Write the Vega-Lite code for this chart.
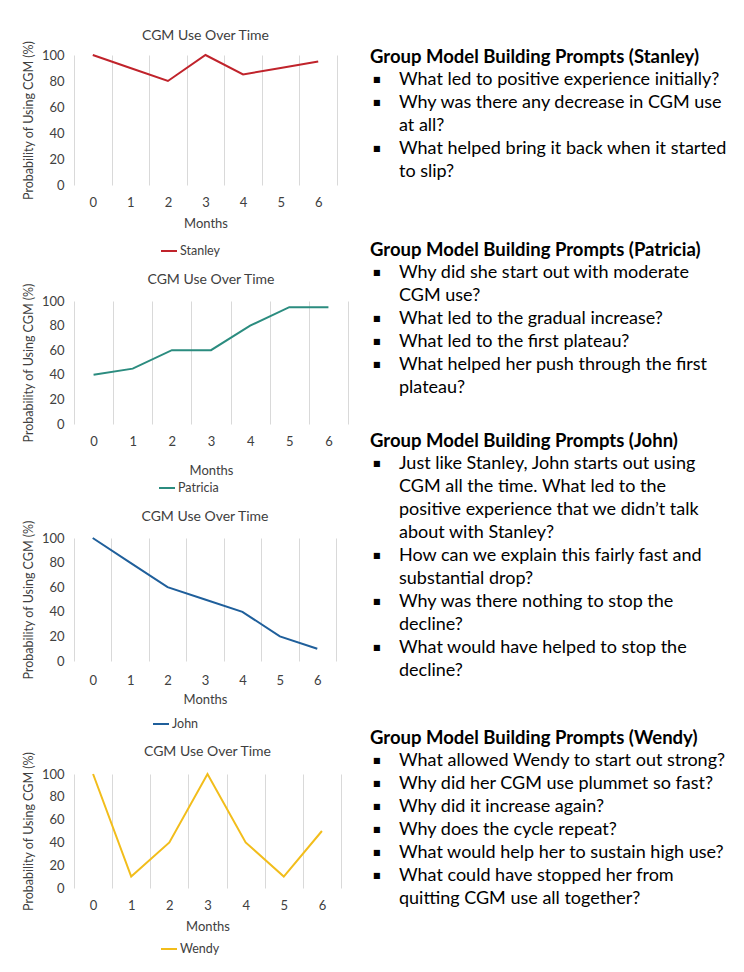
{
  "$schema": "https://vega.github.io/schema/vega-lite/v6.json",
  "padding": {"top": 29, "left": 22, "right": 0, "bottom": 0},
  "background": "white",
  "datasets": {
    "cgm": [
      {"person": "Stanley", "month": 0, "value": 100},
      {"person": "Stanley", "month": 1, "value": 90},
      {"person": "Stanley", "month": 2, "value": 80},
      {"person": "Stanley", "month": 3, "value": 100},
      {"person": "Stanley", "month": 4, "value": 85},
      {"person": "Stanley", "month": 5, "value": 90},
      {"person": "Stanley", "month": 6, "value": 95},
      {"person": "Patricia", "month": 0, "value": 40},
      {"person": "Patricia", "month": 1, "value": 45},
      {"person": "Patricia", "month": 2, "value": 60},
      {"person": "Patricia", "month": 3, "value": 60},
      {"person": "Patricia", "month": 4, "value": 80},
      {"person": "Patricia", "month": 5, "value": 95},
      {"person": "Patricia", "month": 6, "value": 95},
      {"person": "John", "month": 0, "value": 100},
      {"person": "John", "month": 1, "value": 80},
      {"person": "John", "month": 2, "value": 60},
      {"person": "John", "month": 3, "value": 50},
      {"person": "John", "month": 4, "value": 40},
      {"person": "John", "month": 5, "value": 20},
      {"person": "John", "month": 6, "value": 10},
      {"person": "Wendy", "month": 0, "value": 100},
      {"person": "Wendy", "month": 1, "value": 10},
      {"person": "Wendy", "month": 2, "value": 40},
      {"person": "Wendy", "month": 3, "value": 100},
      {"person": "Wendy", "month": 4, "value": 40},
      {"person": "Wendy", "month": 5, "value": 10},
      {"person": "Wendy", "month": 6, "value": 50}
    ],
    "prompts": [
      {"line": 0, "kind": "heading", "text": "Group Model Building Prompts (Stanley)"},
      {"line": 1, "kind": "bullet", "text": "What led to positive experience initially?"},
      {"line": 2, "kind": "bullet", "text": "Why was there any decrease in CGM use"},
      {"line": 3, "kind": "cont", "text": "at all?"},
      {"line": 4, "kind": "bullet", "text": "What helped bring it back when it started"},
      {"line": 5, "kind": "cont", "text": "to slip?"},
      {"line": 8.4, "kind": "heading", "text": "Group Model Building Prompts (Patricia)"},
      {"line": 9.4, "kind": "bullet", "text": "Why did she start out with moderate"},
      {"line": 10.4, "kind": "cont", "text": "CGM use?"},
      {"line": 11.4, "kind": "bullet", "text": "What led to the gradual increase?"},
      {"line": 12.4, "kind": "bullet", "text": "What led to the first plateau?"},
      {"line": 13.4, "kind": "bullet", "text": "What helped her push through the first"},
      {"line": 14.4, "kind": "cont", "text": "plateau?"},
      {"line": 16.7, "kind": "heading", "text": "Group Model Building Prompts (John)"},
      {"line": 17.7, "kind": "bullet", "text": "Just like Stanley, John starts out using"},
      {"line": 18.7, "kind": "cont", "text": "CGM all the time. What led to the"},
      {"line": 19.7, "kind": "cont", "text": "positive experience that we didn’t talk"},
      {"line": 20.7, "kind": "cont", "text": "about with Stanley?"},
      {"line": 21.7, "kind": "bullet", "text": "How can we explain this fairly fast and"},
      {"line": 22.7, "kind": "cont", "text": "substantial drop?"},
      {"line": 23.7, "kind": "bullet", "text": "Why was there nothing to stop the"},
      {"line": 24.7, "kind": "cont", "text": "decline?"},
      {"line": 25.7, "kind": "bullet", "text": "What would have helped to stop the"},
      {"line": 26.7, "kind": "cont", "text": "decline?"},
      {"line": 29.6, "kind": "heading", "text": "Group Model Building Prompts (Wendy)"},
      {"line": 30.6, "kind": "bullet", "text": "What allowed Wendy to start out strong?"},
      {"line": 31.6, "kind": "bullet", "text": "Why did her CGM use plummet so fast?"},
      {"line": 32.6, "kind": "bullet", "text": "Why did it increase again?"},
      {"line": 33.6, "kind": "bullet", "text": "Why does the cycle repeat?"},
      {"line": 34.6, "kind": "bullet", "text": "What would help her to sustain high use?"},
      {"line": 35.6, "kind": "bullet", "text": "What could have stopped her from"},
      {"line": 36.6, "kind": "cont", "text": "quitting CGM use all together?"}
    ]
  },
  "hconcat": [
    {
      "vconcat": [
        {
          "width": 263, "height": 130,
          "data": {"name": "cgm"},
          "title": {"text": "CGM Use Over Time", "offset": -3},
          "transform": [{"filter": "datum.person === 'Stanley'"}],
          "mark": {"type": "line", "strokeWidth": 2},
          "encoding": {
            "x": {"field": "month", "type": "ordinal", "scale": {"type": "band", "paddingInner": 0, "paddingOuter": 0},
                  "axis": {"title": "Months", "labelAngle": 0, "tickBand": "extent", "grid": true, "ticks": false, "domain": false, "labelPadding": 11, "titlePadding": 8}},
            "y": {"field": "value", "type": "quantitative", "scale": {"domain": [0, 100]},
                  "axis": {"title": "Probability of Using CGM (%)", "values": [0, 20, 40, 60, 80, 100], "grid": false, "domain": false, "ticks": false, "labelPadding": 10, "titlePadding": 6}},
            "color": {"field": "person", "type": "nominal", "scale": {"domain": ["Stanley"], "range": ["#c0232b"]},
                      "legend": {"title": null, "orient": "none", "legendX": 86, "legendY": 187}}
          }
        },
        {
          "width": 274, "height": 123,
          "data": {"name": "cgm"},
          "title": {"text": "CGM Use Over Time", "offset": -4},
          "transform": [{"filter": "datum.person === 'Patricia'"}],
          "mark": {"type": "line", "strokeWidth": 2},
          "encoding": {
            "x": {"field": "month", "type": "ordinal", "scale": {"type": "band", "paddingInner": 0, "paddingOuter": 0},
                  "axis": {"title": "Months", "labelAngle": 0, "tickBand": "extent", "grid": true, "ticks": false, "domain": false, "labelPadding": 11, "titlePadding": 16}},
            "y": {"field": "value", "type": "quantitative", "scale": {"domain": [0, 100]},
                  "axis": {"title": "Probability of Using CGM (%)", "values": [0, 20, 40, 60, 80, 100], "grid": false, "domain": false, "ticks": false, "labelPadding": 10, "titlePadding": 6}},
            "color": {"field": "person", "type": "nominal", "scale": {"domain": ["Patricia"], "range": ["#2b8c7f"]},
                      "legend": {"title": null, "orient": "none", "legendX": 84, "legendY": 178}}
          }
        },
        {
          "width": 262, "height": 123,
          "data": {"name": "cgm"},
          "title": {"text": "CGM Use Over Time", "offset": -4},
          "transform": [{"filter": "datum.person === 'John'"}],
          "mark": {"type": "line", "strokeWidth": 2},
          "encoding": {
            "x": {"field": "month", "type": "ordinal", "scale": {"type": "band", "paddingInner": 0, "paddingOuter": 0},
                  "axis": {"title": "Months", "labelAngle": 0, "tickBand": "extent", "grid": true, "ticks": false, "domain": false, "labelPadding": 13, "titlePadding": 6}},
            "y": {"field": "value", "type": "quantitative", "scale": {"domain": [0, 100]},
                  "axis": {"title": "Probability of Using CGM (%)", "values": [0, 20, 40, 60, 80, 100], "grid": false, "domain": false, "ticks": false, "labelPadding": 10, "titlePadding": 6}},
            "color": {"field": "person", "type": "nominal", "scale": {"domain": ["John"], "range": ["#1f5f9b"]},
                      "legend": {"title": null, "orient": "none", "legendX": 78, "legendY": 177}}
          }
        },
        {
          "width": 267, "height": 114,
          "data": {"name": "cgm"},
          "title": {"text": "CGM Use Over Time", "offset": -8},
          "transform": [{"filter": "datum.person === 'Wendy'"}],
          "mark": {"type": "line", "strokeWidth": 2},
          "encoding": {
            "x": {"field": "month", "type": "ordinal", "scale": {"type": "band", "paddingInner": 0, "paddingOuter": 0},
                  "axis": {"title": "Months", "labelAngle": 0, "tickBand": "extent", "grid": true, "ticks": false, "domain": false, "labelPadding": 11, "titlePadding": 8}},
            "y": {"field": "value", "type": "quantitative", "scale": {"domain": [0, 100]},
                  "axis": {"title": "Probability of Using CGM (%)", "values": [0, 20, 40, 60, 80, 100], "grid": false, "domain": false, "ticks": false, "labelPadding": 10, "titlePadding": 6}},
            "color": {"field": "person", "type": "nominal", "scale": {"domain": ["Wendy"], "range": ["#f2bd1b"]},
                      "legend": {"title": null, "orient": "none", "legendX": 86, "legendY": 166}}
          }
        }
      ],
      "spacing": 14,
      "resolve": {"scale": {"color": "independent", "x": "independent", "y": "independent"}, "legend": {"color": "independent"}}
    },
    {
      "width": 10, "height": 876,
      "data": {"name": "prompts"},
      "encoding": {
        "y": {"field": "line", "type": "quantitative", "scale": {"domain": [-0.1, 38], "reverse": true, "nice": false, "zero": false}, "axis": null}
      },
      "layer": [
        {
          "transform": [{"filter": "datum.kind === 'heading'"}],
          "mark": {"type": "text", "align": "left", "baseline": "middle", "dx": 5, "fontSize": 18.5, "fontWeight": "bold", "font": "Lato", "color": "#000000"},
          "encoding": {"text": {"field": "text"}}
        },
        {
          "transform": [{"filter": "datum.kind === 'bullet'"}],
          "mark": {"type": "text", "align": "left", "baseline": "middle", "dx": 8, "fontSize": 8, "font": "DejaVu Sans", "color": "#000000"},
          "encoding": {"text": {"value": "■"}}
        },
        {
          "transform": [{"filter": "datum.kind !== 'heading'"}],
          "mark": {"type": "text", "align": "left", "baseline": "middle", "dx": 34, "fontSize": 18, "font": "Lato", "color": "#000000"},
          "encoding": {"text": {"field": "text"}}
        }
      ]
    }
  ],
  "spacing": 12,
  "resolve": {"scale": {"color": "independent"}, "legend": {"color": "independent"}},
  "config": {
    "font": "Lato",
    "view": {"stroke": null},
    "title": {"fontSize": 14, "fontWeight": "normal", "color": "#404040", "anchor": "middle"},
    "axis": {"labelFontSize": 13, "labelColor": "#404040", "titleFontSize": 12.5, "titleFontWeight": "normal", "titleColor": "#404040", "gridColor": "#d9d9d9", "gridWidth": 1},
    "axisX": {"titleFontSize": 13},
    "legend": {"symbolType": "stroke", "symbolStrokeWidth": 2, "symbolSize": 256, "labelFontSize": 12.5, "labelColor": "#404040", "labelOffset": 2, "direction": "horizontal"}
  }
}
